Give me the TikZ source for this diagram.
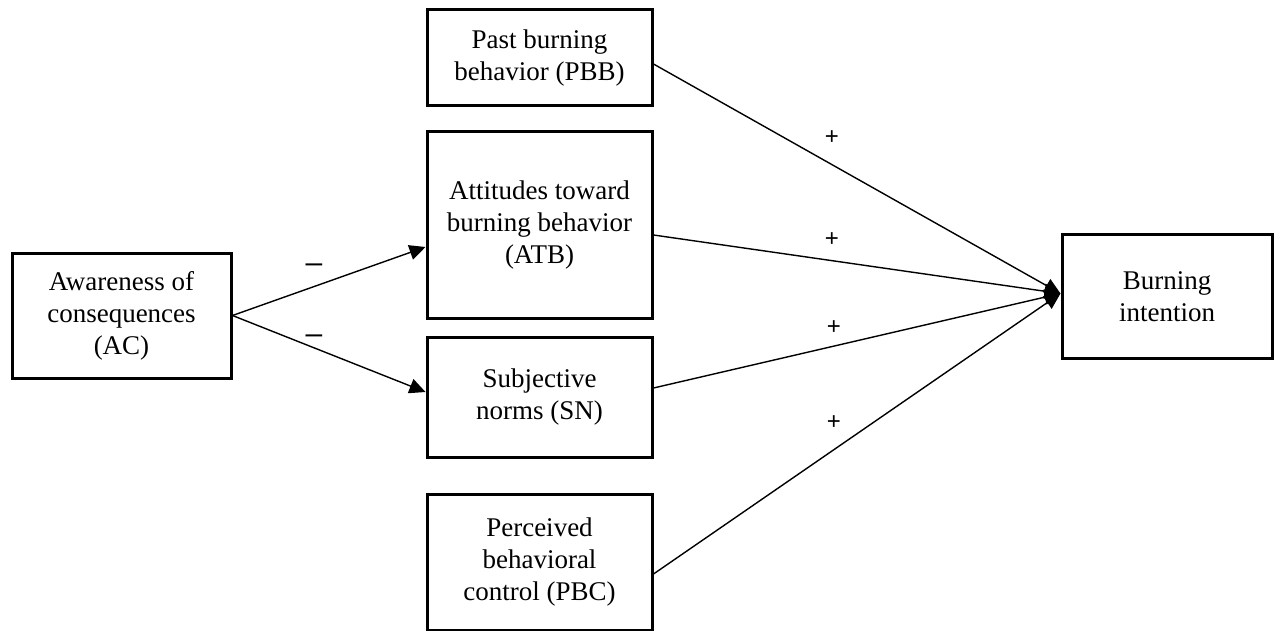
\documentclass[tikz,border=0pt]{standalone}
\usepackage{fontspec}
\setmainfont{Liberation Serif}
\newfontfamily\signfont{Liberation Sans}
\usetikzlibrary{arrows.meta, calc}

\begin{document}
\begin{tikzpicture}[x=0.5pt, y=-0.5pt, >={Triangle[length=8pt, width=7.5pt]},
    box/.style={draw, line width=1.5pt, align=center, inner sep=2pt,
        font=\fontsize{13.5}{16}\selectfont},
    link/.style={->, line width=0.7pt},
    sign/.style={font=\signfont\fontsize{12}{14}\selectfont, inner sep=0pt}]
    \useasboundingbox (0,0) rectangle (1281,631);

    % === Boxes ===
    \node[box, minimum width=109.5pt, minimum height=62.5pt] (ac) at (121.5,315.5) {Awareness of\\consequences\\(AC)};
    \node[box, minimum width=112.5pt, minimum height=48pt] (pbb) at (539.5,58) {Past burning\\behavior (PBB)};
    \node[box, minimum width=112.5pt, minimum height=93pt] (atb) at (539.5,225) {Attitudes toward\\burning behavior\\(ATB)};
    \node[box, minimum width=112.5pt, minimum height=60pt] (sn) at (539.5,397) {Subjective\\norms (SN)};
    \node[box, minimum width=112.5pt, minimum height=68pt] (pbc) at (539.5,562) {Perceived\\behavioral\\control (PBC)};
    \node[box, minimum width=105pt, minimum height=61.5pt] (bi) at (1167,296.5) {Burning\\intention};

    % === AC paths ===
    \draw[link] (ac.east) -- ($(atb.west)+(0,22)$);
    \draw[link] (ac.east) -- ($(sn.west)+(0,-5)$);
    \node[sign, font=\signfont\fontsize{15}{16}\selectfont] (m1) at (314,268) {\textendash};
    \node[sign, font=\signfont\fontsize{15}{16}\selectfont] (m2) at (314,339) {\textendash};

    % === Paths to intention ===
    \coordinate (tip) at ($(bi.west)+(0,-3)$);
    \draw[link] ($(pbb.east)+(0,6)$) -- (tip);
    \draw[link] ($(atb.east)+(0,10)$) -- (tip);
    \draw[link] ($(sn.east)+(0,-9)$) -- (tip);
    \draw[link] ($(pbc.east)+(0,12)$) -- (tip);
    \node[sign] (p1) at (832,138) {+};
    \node[sign] (p2) at (832,240) {+};
    \node[sign] (p3) at (834,328) {+};
    \node[sign] (p4) at (834,423) {+};
\end{tikzpicture}
\end{document}
